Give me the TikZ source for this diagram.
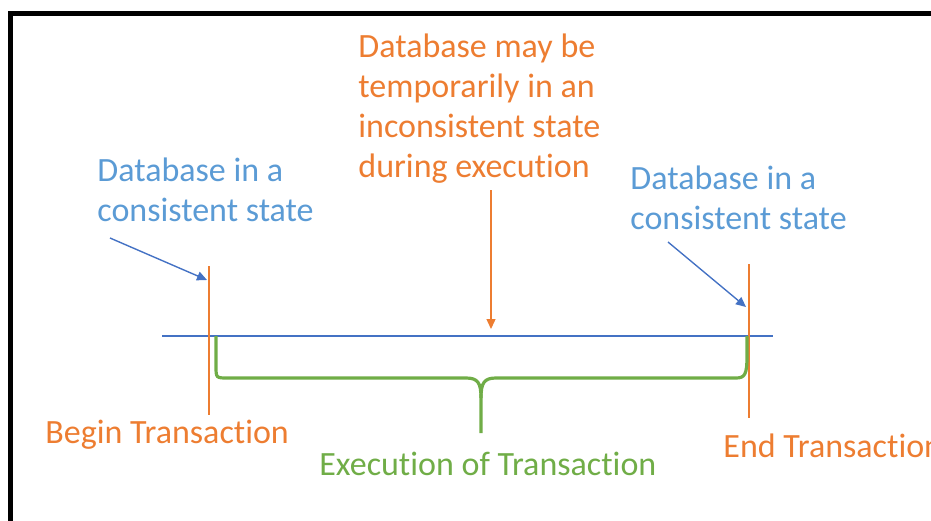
\documentclass[tikz,border=0pt]{standalone}
\usepackage{fontspec}
\setmainfont{Carlito}[Ligatures={NoCommon,NoContextual,NoRare}]
\usetikzlibrary{arrows.meta}
\definecolor{dbblue}{HTML}{5B9BD5}
\definecolor{arrowblue}{HTML}{4472C4}
\definecolor{txorange}{HTML}{ED7D31}
\definecolor{exgreen}{HTML}{70AD47}

\begin{document}
\begin{tikzpicture}[x=0.5pt,y=-0.5pt,
  note/.style={font=\fontsize{17}{20}\selectfont,inner sep=0pt,align=left,anchor=base west},
  pointer/.style={-{Triangle[length=5pt,width=4.5pt]},line width=0.7pt}]
  \useasboundingbox (0,0) rectangle (931,520);

  % frame
  \draw[line width=2.5pt] (10,530) -- (10,13) -- (941,13);

  % texts (base = last line)
  \node[note,text=dbblue] (startstate) at (97,221) {Database in a\\consistent state};
  \node[note,text=dbblue] (endstate) at (630,229) {Database in a\\consistent state};
  \node[note,text=txorange] (midstate) at (358,177) {Database may be\\temporarily in an\\inconsistent state\\during execution};
  \node[note,text=txorange] (begin) at (45,443) {Begin Transaction};
  \node[note,text=txorange] (end) at (723,457) {End Transaction};
  \node[note,text=exgreen] (exec) at (319,475) {Execution of Transaction};

  % time line and markers
  \coordinate (t0) at (162,336);
  \coordinate (t1) at (773,336);
  \coordinate (b0) at (209,266);
  \coordinate (b1) at (209,415);
  \coordinate (e0) at (749,264);
  \coordinate (e1) at (749,418);
  \draw[arrowblue,line width=0.7pt] (t0) -- (t1);
  \draw[txorange,line width=0.7pt] (b0) -- (b1);
  \draw[txorange,line width=0.7pt] (e0) -- (e1);

  % brace
  \draw[exgreen,line width=1.6pt]
    (216,336) -- (216,366) .. controls (216,378) and (216,378) .. (228,378)
    -- (466,378) .. controls (478,378) and (481,383) .. (481,398) -- (481,433);
  \draw[exgreen,line width=1.6pt]
    (747,336) -- (747,356) .. controls (747,374) and (745,378) .. (736,378)
    -- (496,378) .. controls (484,378) and (481,383) .. (481,398);

  % pointers
  \coordinate (p0) at (110,238);
  \coordinate (q0) at (207,280);
  \coordinate (p1) at (668,242);
  \coordinate (q1) at (746,307);
  \coordinate (m0) at (491,190);
  \coordinate (m1) at (491,329);
  \path[pointer]
    (p0) edge[arrowblue] (q0)
    (p1) edge[arrowblue] (q1)
    (m0) edge[txorange] (m1);
\end{tikzpicture}
\end{document}
